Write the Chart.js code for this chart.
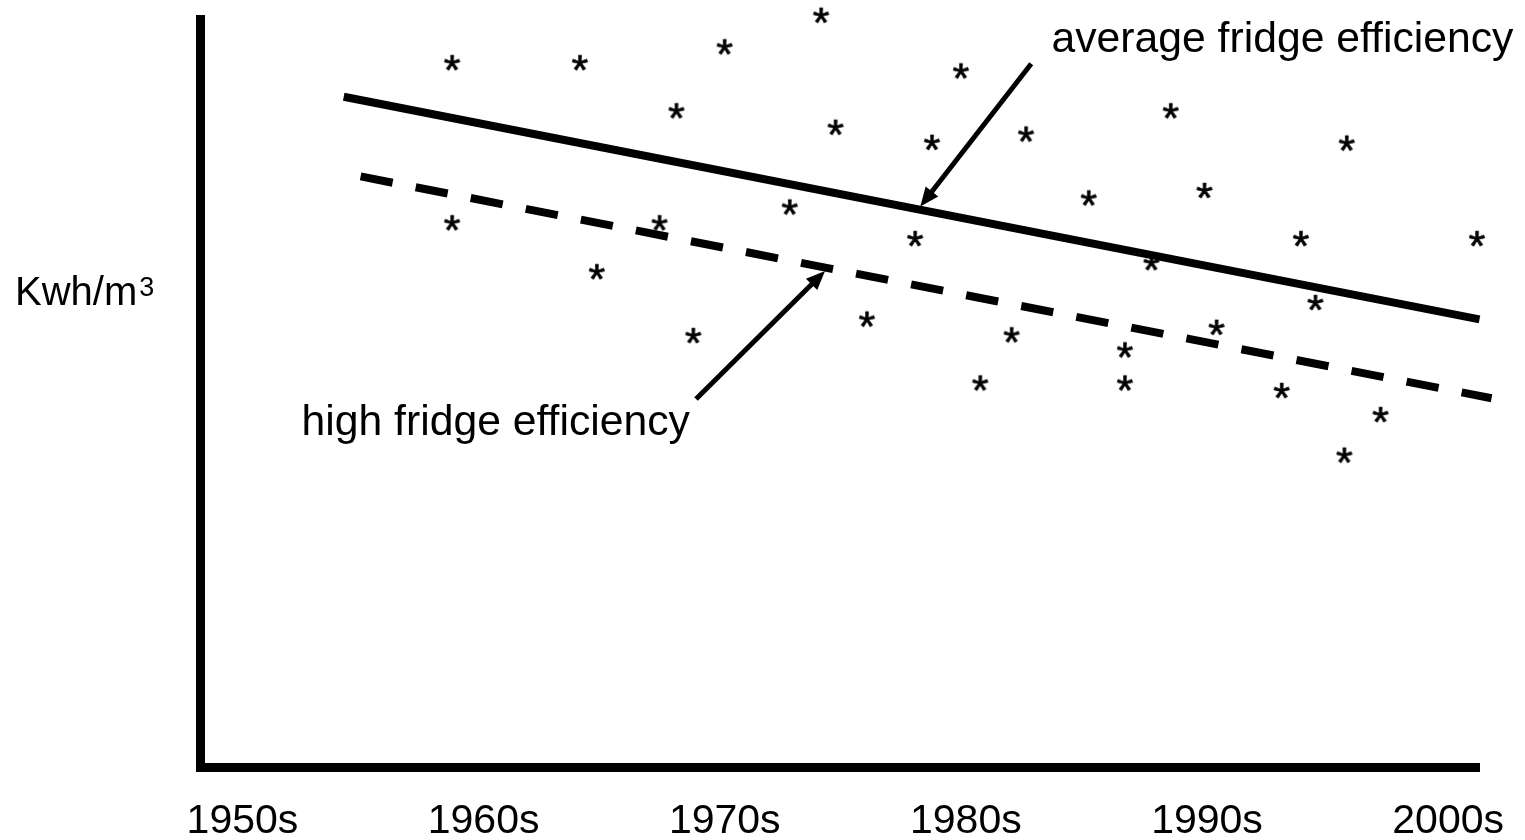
<!DOCTYPE html>
<html>
<head>
<meta charset="utf-8">
<script src="https://cdn.jsdelivr.net/npm/chart.js@4/dist/chart.umd.min.js"></script>
<style>
  html, body { margin: 0; padding: 0; background: #fff; }
  #wrap { width: 1525px; height: 840px; }
</style>
</head>
<body>
<div id="wrap"><canvas id="fridgeChart" width="1525" height="840"></canvas></div>
<script>
const FONT = '"Liberation Sans", Arial, sans-serif'

// decade ticks on the x axis
const tickYears = [1950, 1960, 1970, 1980, 1990, 2000]
const tickLabels = ["1950s", "1960s", "1970s", "1980s", "1990s", "2000s"]

// scattered fridges (year, Kwh/m3 on an arbitrary 0-100 scale)
const sampleYears = [
  1958.7, 1964.0, 1970.0, 1974.0, 1968.0, 1974.6, 1979.8, 1978.6,
  1982.5, 1988.5, 1995.8, 1985.1, 1989.9, 1972.7, 1958.7, 1967.3,
  1977.9, 1993.9, 2001.2, 1987.7, 1964.7, 1994.5, 1975.9, 1981.9,
  1990.4, 1968.7, 1986.6, 1986.6, 1980.6, 1993.1, 1997.2, 1995.7,
]
const sampleValues = [
  93.8, 93.8, 95.9, 100.1, 87.4, 85.2, 92.7, 83.2,
  84.3, 87.4, 83.1, 75.8, 76.8, 74.6, 72.5, 72.5,
  70.4, 70.4, 70.4, 67.2, 66.0, 61.9, 59.7, 57.6,
  58.6, 57.5, 55.6, 51.2, 51.2, 50.2, 47.0, 41.6,
]

// trend lines
const averageYears = [1954.2, 2001.3]
const averageValues = [89.2, 59.6]
const highYears = [1954.9, 2001.8]
const highValues = [78.6, 49.1]

// callouts, in data coordinates
const callouts = [
  { text: "average fridge efficiency", at: [1983.55, 95.1], from: [1982.71, 93.58], to: [1978.11, 74.6] },
  { text: "high fridge efficiency", at: [1952.45, 44.15], from: [1968.81, 49.0], to: [1974.16, 66.02] },
]

const toPoints = (xs, ys) => xs.map((x, i) => ({ x: x, y: ys[i] }))

// asterisk used as the point marker
const starCanvas = document.createElement("canvas")
starCanvas.width = 30
starCanvas.height = 30
{
  const c = starCanvas.getContext("2d")
  c.font = "43px " + FONT
  c.fillStyle = "#000"
  c.strokeStyle = "#000"
  c.lineWidth = 0.7
  const m = c.measureText("*")
  const w = m.actualBoundingBoxRight + m.actualBoundingBoxLeft
  const h = m.actualBoundingBoxAscent + m.actualBoundingBoxDescent
  const sx = 15 - w / 2 + m.actualBoundingBoxLeft
  const sy = 15 - h / 2 + m.actualBoundingBoxAscent
  c.fillText("*", sx, sy)
  c.strokeText("*", sx, sy)
}

const annotate = {
  id: "annotate",
  afterDatasetsDraw(chart) {
    const { ctx, scales } = chart
    const px = p => [scales.x.getPixelForValue(p[0]), scales.y.getPixelForValue(p[1])]
    ctx.save()
    ctx.fillStyle = "#000"
    ctx.strokeStyle = "#000"
    callouts.forEach(c => {
      const [x1, y1] = px(c.from)
      const [x2, y2] = px(c.to)
      const len = Math.hypot(x2 - x1, y2 - y1)
      const ux = (x2 - x1) / len, uy = (y2 - y1) / len
      const head = 19, half = 8
      ctx.lineWidth = 5
      ctx.lineCap = "butt"
      ctx.beginPath()
      ctx.moveTo(x1, y1)
      ctx.lineTo(x2 - ux * head * 0.8, y2 - uy * head * 0.8)
      ctx.stroke()
      ctx.beginPath()
      ctx.moveTo(x2, y2)
      ctx.lineTo(x2 - ux * head - uy * half, y2 - uy * head + ux * half)
      ctx.lineTo(x2 - ux * head + uy * half, y2 - uy * head - ux * half)
      ctx.closePath()
      ctx.fill()

      const [tx, ty] = px(c.at)
      ctx.font = "42.7px " + FONT
      ctx.textAlign = "left"
      ctx.textBaseline = "alphabetic"
      ctx.fillText(c.text, tx, ty)
    })

    // y axis title with superscript
    ctx.font = "40px " + FONT
    ctx.fillText("Kwh/m", 15, 305)
    const w = ctx.measureText("Kwh/m").width
    ctx.font = "27px " + FONT
    ctx.fillText("3", 15 + w + 2, 296)
    ctx.restore()
  },
}

new Chart(document.getElementById("fridgeChart"), {
  type: "scatter",
  data: {
    datasets: [
      {
        label: "fridges",
        data: toPoints(sampleYears, sampleValues),
        pointStyle: starCanvas,
        pointRadius: 7,
        clip: false,
      },
      {
        label: "average fridge efficiency",
        data: toPoints(averageYears, averageValues),
        showLine: true,
        borderColor: "#000",
        borderWidth: 8,
        borderCapStyle: "butt",
        pointRadius: 0,
        clip: false,
      },
      {
        label: "high fridge efficiency",
        data: toPoints(highYears, highValues),
        showLine: true,
        borderColor: "#000",
        borderWidth: 8,
        borderCapStyle: "butt",
        borderDash: [32.6, 23.5],
        pointRadius: 0,
        clip: false,
      },
    ],
  },
  options: {
    responsive: false,
    animation: false,
    devicePixelRatio: 1,
    events: [],
    layout: { padding: { left: 200.5, top: 19.5, right: 45.5, bottom: 0 } },
    plugins: { legend: { display: false }, tooltip: { enabled: false } },
    scales: {
      x: {
        type: "linear",
        min: 1948.26,
        max: 2001.3,
        afterBuildTicks: scale => {
          scale.ticks = tickYears.map(v => ({ value: v }))
        },
        afterFit: scale => {
          scale.height = 72.5
          scale.paddingLeft = 0
          scale.paddingRight = 0
        },
        grid: { display: false, drawTicks: false },
        border: { display: true, width: 9, color: "#000" },
        ticks: {
          color: "#000",
          font: { family: FONT, size: 41 },
          padding: 30,
          maxRotation: 0,
          autoSkip: false,
          callback: (value, i) => tickLabels[i],
        },
      },
      y: {
        min: 0,
        max: 99.47,
        grid: { display: false, drawTicks: false },
        border: { display: true, width: 9, color: "#000" },
        ticks: { display: false },
      },
    },
  },
  plugins: [annotate],
})
</script>
</body>
</html>
